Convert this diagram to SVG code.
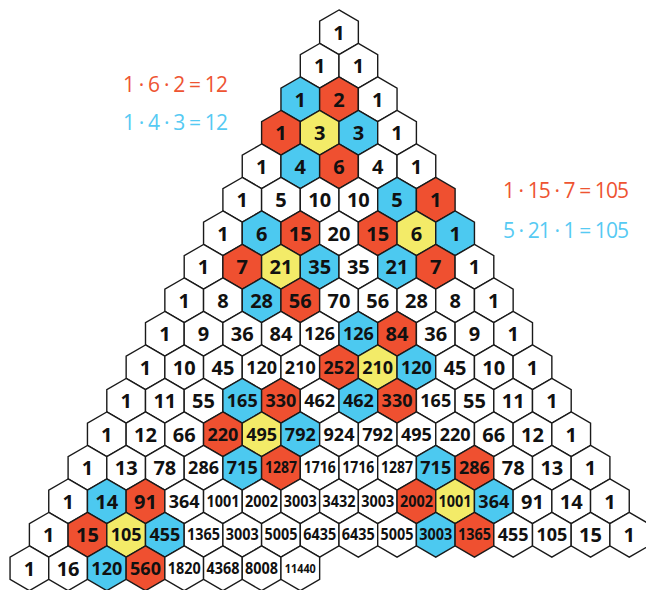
<svg xmlns="http://www.w3.org/2000/svg" xmlns:xlink="http://www.w3.org/1999/xlink" width="646" height="590" viewBox="0 0 646 590">
<style>
.hx{stroke:#1a1a1a;stroke-width:1.4;stroke-linejoin:miter}
.w{fill:#ffffff}.r{fill:#EF5030}.b{fill:#4CC9F0}.y{fill:#F3EB68}
text{font-family:"Open Sans","Liberation Sans",sans-serif;font-weight:700;fill:#111;text-anchor:middle}
.t2{font-size:20px}.t3{font-size:18px}.t4{font-size:15.5px}.t5{font-size:12px}
.eq{font-weight:400;font-size:21px;text-anchor:start}
.er{fill:#EE5432}.eb{fill:#56CAF3}
</style>
<defs>
<polygon id="hx" points="0,-22.34 19.35,-11.17 19.35,11.17 0,22.34 -19.35,11.17 -19.35,-11.17"/>
</defs>
<g id="equations">
<text class="eq er" x="123" y="92" textLength="105" lengthAdjust="spacing">1 · 6 · 2 = 12</text>
<text class="eq eb" x="123" y="130" textLength="105" lengthAdjust="spacing">1 · 4 · 3 = 12</text>
<text class="eq er" x="503" y="198" textLength="126" lengthAdjust="spacing">1 · 15 · 7 = 105</text>
<text class="eq eb" x="503" y="238" textLength="126" lengthAdjust="spacing">5 · 21 · 1 = 105</text>
</g>
<g id="triangle">
<g id="row0" transform="translate(339,32.3)">
<g id="c0-0"><use href="#hx" class="hx w"/><text class="t2" y="7.2">1</text></g>
</g>
<g id="row1" transform="translate(319.65,65.8)">
<g id="c1-0"><use href="#hx" class="hx w"/><text class="t2" y="7.2">1</text></g>
<g id="c1-1" transform="translate(38.7,0)"><use href="#hx" class="hx w"/><text class="t2" y="7.2">1</text></g>
</g>
<g id="row2" transform="translate(300.3,99.3)">
<g id="c2-0"><use href="#hx" class="hx b"/><text class="t2" y="7.2">1</text></g>
<g id="c2-1" transform="translate(38.7,0)"><use href="#hx" class="hx r"/><text class="t2" y="7.2">2</text></g>
<g id="c2-2" transform="translate(77.4,0)"><use href="#hx" class="hx w"/><text class="t2" y="7.2">1</text></g>
</g>
<g id="row3" transform="translate(280.95,132.8)">
<g id="c3-0"><use href="#hx" class="hx r"/><text class="t2" y="7.2">1</text></g>
<g id="c3-1" transform="translate(38.7,0)"><use href="#hx" class="hx y"/><text class="t2" y="7.2">3</text></g>
<g id="c3-2" transform="translate(77.4,0)"><use href="#hx" class="hx b"/><text class="t2" y="7.2">3</text></g>
<g id="c3-3" transform="translate(116.1,0)"><use href="#hx" class="hx w"/><text class="t2" y="7.2">1</text></g>
</g>
<g id="row4" transform="translate(261.6,166.3)">
<g id="c4-0"><use href="#hx" class="hx w"/><text class="t2" y="7.2">1</text></g>
<g id="c4-1" transform="translate(38.7,0)"><use href="#hx" class="hx b"/><text class="t2" y="7.2">4</text></g>
<g id="c4-2" transform="translate(77.4,0)"><use href="#hx" class="hx r"/><text class="t2" y="7.2">6</text></g>
<g id="c4-3" transform="translate(116.1,0)"><use href="#hx" class="hx w"/><text class="t2" y="7.2">4</text></g>
<g id="c4-4" transform="translate(154.8,0)"><use href="#hx" class="hx w"/><text class="t2" y="7.2">1</text></g>
</g>
<g id="row5" transform="translate(242.25,199.8)">
<g id="c5-0"><use href="#hx" class="hx w"/><text class="t2" y="7.2">1</text></g>
<g id="c5-1" transform="translate(38.7,0)"><use href="#hx" class="hx w"/><text class="t2" y="7.2">5</text></g>
<g id="c5-2" transform="translate(77.4,0)"><use href="#hx" class="hx w"/><text class="t2" y="7.2">10</text></g>
<g id="c5-3" transform="translate(116.1,0)"><use href="#hx" class="hx w"/><text class="t2" y="7.2">10</text></g>
<g id="c5-4" transform="translate(154.8,0)"><use href="#hx" class="hx b"/><text class="t2" y="7.2">5</text></g>
<g id="c5-5" transform="translate(193.5,0)"><use href="#hx" class="hx r"/><text class="t2" y="7.2">1</text></g>
</g>
<g id="row6" transform="translate(222.9,233.3)">
<g id="c6-0"><use href="#hx" class="hx w"/><text class="t2" y="7.2">1</text></g>
<g id="c6-1" transform="translate(38.7,0)"><use href="#hx" class="hx b"/><text class="t2" y="7.2">6</text></g>
<g id="c6-2" transform="translate(77.4,0)"><use href="#hx" class="hx r"/><text class="t2" y="7.2">15</text></g>
<g id="c6-3" transform="translate(116.1,0)"><use href="#hx" class="hx w"/><text class="t2" y="7.2">20</text></g>
<g id="c6-4" transform="translate(154.8,0)"><use href="#hx" class="hx r"/><text class="t2" y="7.2">15</text></g>
<g id="c6-5" transform="translate(193.5,0)"><use href="#hx" class="hx y"/><text class="t2" y="7.2">6</text></g>
<g id="c6-6" transform="translate(232.2,0)"><use href="#hx" class="hx b"/><text class="t2" y="7.2">1</text></g>
</g>
<g id="row7" transform="translate(203.55,266.8)">
<g id="c7-0"><use href="#hx" class="hx w"/><text class="t2" y="7.2">1</text></g>
<g id="c7-1" transform="translate(38.7,0)"><use href="#hx" class="hx r"/><text class="t2" y="7.2">7</text></g>
<g id="c7-2" transform="translate(77.4,0)"><use href="#hx" class="hx y"/><text class="t2" y="7.2">21</text></g>
<g id="c7-3" transform="translate(116.1,0)"><use href="#hx" class="hx b"/><text class="t2" y="7.2">35</text></g>
<g id="c7-4" transform="translate(154.8,0)"><use href="#hx" class="hx w"/><text class="t2" y="7.2">35</text></g>
<g id="c7-5" transform="translate(193.5,0)"><use href="#hx" class="hx b"/><text class="t2" y="7.2">21</text></g>
<g id="c7-6" transform="translate(232.2,0)"><use href="#hx" class="hx r"/><text class="t2" y="7.2">7</text></g>
<g id="c7-7" transform="translate(270.9,0)"><use href="#hx" class="hx w"/><text class="t2" y="7.2">1</text></g>
</g>
<g id="row8" transform="translate(184.2,300.3)">
<g id="c8-0"><use href="#hx" class="hx w"/><text class="t2" y="7.2">1</text></g>
<g id="c8-1" transform="translate(38.7,0)"><use href="#hx" class="hx w"/><text class="t2" y="7.2">8</text></g>
<g id="c8-2" transform="translate(77.4,0)"><use href="#hx" class="hx b"/><text class="t2" y="7.2">28</text></g>
<g id="c8-3" transform="translate(116.1,0)"><use href="#hx" class="hx r"/><text class="t2" y="7.2">56</text></g>
<g id="c8-4" transform="translate(154.8,0)"><use href="#hx" class="hx w"/><text class="t2" y="7.2">70</text></g>
<g id="c8-5" transform="translate(193.5,0)"><use href="#hx" class="hx w"/><text class="t2" y="7.2">56</text></g>
<g id="c8-6" transform="translate(232.2,0)"><use href="#hx" class="hx w"/><text class="t2" y="7.2">28</text></g>
<g id="c8-7" transform="translate(270.9,0)"><use href="#hx" class="hx w"/><text class="t2" y="7.2">8</text></g>
<g id="c8-8" transform="translate(309.6,0)"><use href="#hx" class="hx w"/><text class="t2" y="7.2">1</text></g>
</g>
<g id="row9" transform="translate(164.85,333.8)">
<g id="c9-0"><use href="#hx" class="hx w"/><text class="t2" y="7.2">1</text></g>
<g id="c9-1" transform="translate(38.7,0)"><use href="#hx" class="hx w"/><text class="t2" y="7.2">9</text></g>
<g id="c9-2" transform="translate(77.4,0)"><use href="#hx" class="hx w"/><text class="t2" y="7.2">36</text></g>
<g id="c9-3" transform="translate(116.1,0)"><use href="#hx" class="hx w"/><text class="t2" y="7.2">84</text></g>
<g id="c9-4" transform="translate(154.8,0)"><use href="#hx" class="hx w"/><text class="t3" y="6.4">126</text></g>
<g id="c9-5" transform="translate(193.5,0)"><use href="#hx" class="hx b"/><text class="t3" y="6.4">126</text></g>
<g id="c9-6" transform="translate(232.2,0)"><use href="#hx" class="hx r"/><text class="t2" y="7.2">84</text></g>
<g id="c9-7" transform="translate(270.9,0)"><use href="#hx" class="hx w"/><text class="t2" y="7.2">36</text></g>
<g id="c9-8" transform="translate(309.6,0)"><use href="#hx" class="hx w"/><text class="t2" y="7.2">9</text></g>
<g id="c9-9" transform="translate(348.3,0)"><use href="#hx" class="hx w"/><text class="t2" y="7.2">1</text></g>
</g>
<g id="row10" transform="translate(145.5,367.3)">
<g id="c10-0"><use href="#hx" class="hx w"/><text class="t2" y="7.2">1</text></g>
<g id="c10-1" transform="translate(38.7,0)"><use href="#hx" class="hx w"/><text class="t2" y="7.2">10</text></g>
<g id="c10-2" transform="translate(77.4,0)"><use href="#hx" class="hx w"/><text class="t2" y="7.2">45</text></g>
<g id="c10-3" transform="translate(116.1,0)"><use href="#hx" class="hx w"/><text class="t3" y="6.4">120</text></g>
<g id="c10-4" transform="translate(154.8,0)"><use href="#hx" class="hx w"/><text class="t3" y="6.4">210</text></g>
<g id="c10-5" transform="translate(193.5,0)"><use href="#hx" class="hx r"/><text class="t3" y="6.4">252</text></g>
<g id="c10-6" transform="translate(232.2,0)"><use href="#hx" class="hx y"/><text class="t3" y="6.4">210</text></g>
<g id="c10-7" transform="translate(270.9,0)"><use href="#hx" class="hx b"/><text class="t3" y="6.4">120</text></g>
<g id="c10-8" transform="translate(309.6,0)"><use href="#hx" class="hx w"/><text class="t2" y="7.2">45</text></g>
<g id="c10-9" transform="translate(348.3,0)"><use href="#hx" class="hx w"/><text class="t2" y="7.2">10</text></g>
<g id="c10-10" transform="translate(387,0)"><use href="#hx" class="hx w"/><text class="t2" y="7.2">1</text></g>
</g>
<g id="row11" transform="translate(126.15,400.8)">
<g id="c11-0"><use href="#hx" class="hx w"/><text class="t2" y="7.2">1</text></g>
<g id="c11-1" transform="translate(38.7,0)"><use href="#hx" class="hx w"/><text class="t2" y="7.2">11</text></g>
<g id="c11-2" transform="translate(77.4,0)"><use href="#hx" class="hx w"/><text class="t2" y="7.2">55</text></g>
<g id="c11-3" transform="translate(116.1,0)"><use href="#hx" class="hx b"/><text class="t3" y="6.4">165</text></g>
<g id="c11-4" transform="translate(154.8,0)"><use href="#hx" class="hx r"/><text class="t3" y="6.4">330</text></g>
<g id="c11-5" transform="translate(193.5,0)"><use href="#hx" class="hx w"/><text class="t3" y="6.4">462</text></g>
<g id="c11-6" transform="translate(232.2,0)"><use href="#hx" class="hx b"/><text class="t3" y="6.4">462</text></g>
<g id="c11-7" transform="translate(270.9,0)"><use href="#hx" class="hx r"/><text class="t3" y="6.4">330</text></g>
<g id="c11-8" transform="translate(309.6,0)"><use href="#hx" class="hx w"/><text class="t3" y="6.4">165</text></g>
<g id="c11-9" transform="translate(348.3,0)"><use href="#hx" class="hx w"/><text class="t2" y="7.2">55</text></g>
<g id="c11-10" transform="translate(387,0)"><use href="#hx" class="hx w"/><text class="t2" y="7.2">11</text></g>
<g id="c11-11" transform="translate(425.7,0)"><use href="#hx" class="hx w"/><text class="t2" y="7.2">1</text></g>
</g>
<g id="row12" transform="translate(106.8,434.3)">
<g id="c12-0"><use href="#hx" class="hx w"/><text class="t2" y="7.2">1</text></g>
<g id="c12-1" transform="translate(38.7,0)"><use href="#hx" class="hx w"/><text class="t2" y="7.2">12</text></g>
<g id="c12-2" transform="translate(77.4,0)"><use href="#hx" class="hx w"/><text class="t2" y="7.2">66</text></g>
<g id="c12-3" transform="translate(116.1,0)"><use href="#hx" class="hx r"/><text class="t3" y="6.4">220</text></g>
<g id="c12-4" transform="translate(154.8,0)"><use href="#hx" class="hx y"/><text class="t3" y="6.4">495</text></g>
<g id="c12-5" transform="translate(193.5,0)"><use href="#hx" class="hx b"/><text class="t3" y="6.4">792</text></g>
<g id="c12-6" transform="translate(232.2,0)"><use href="#hx" class="hx w"/><text class="t3" y="6.4">924</text></g>
<g id="c12-7" transform="translate(270.9,0)"><use href="#hx" class="hx w"/><text class="t3" y="6.4">792</text></g>
<g id="c12-8" transform="translate(309.6,0)"><use href="#hx" class="hx w"/><text class="t3" y="6.4">495</text></g>
<g id="c12-9" transform="translate(348.3,0)"><use href="#hx" class="hx w"/><text class="t3" y="6.4">220</text></g>
<g id="c12-10" transform="translate(387,0)"><use href="#hx" class="hx w"/><text class="t2" y="7.2">66</text></g>
<g id="c12-11" transform="translate(425.7,0)"><use href="#hx" class="hx w"/><text class="t2" y="7.2">12</text></g>
<g id="c12-12" transform="translate(464.4,0)"><use href="#hx" class="hx w"/><text class="t2" y="7.2">1</text></g>
</g>
<g id="row13" transform="translate(87.45,467.8)">
<g id="c13-0"><use href="#hx" class="hx w"/><text class="t2" y="7.2">1</text></g>
<g id="c13-1" transform="translate(38.7,0)"><use href="#hx" class="hx w"/><text class="t2" y="7.2">13</text></g>
<g id="c13-2" transform="translate(77.4,0)"><use href="#hx" class="hx w"/><text class="t2" y="7.2">78</text></g>
<g id="c13-3" transform="translate(116.1,0)"><use href="#hx" class="hx w"/><text class="t3" y="6.4">286</text></g>
<g id="c13-4" transform="translate(154.8,0)"><use href="#hx" class="hx b"/><text class="t3" y="6.4">715</text></g>
<g id="c13-5" transform="translate(193.5,0)"><use href="#hx" class="hx r"/><text class="t4" y="5.5" textLength="32" lengthAdjust="spacingAndGlyphs">1287</text></g>
<g id="c13-6" transform="translate(232.2,0)"><use href="#hx" class="hx w"/><text class="t4" y="5.5" textLength="32" lengthAdjust="spacingAndGlyphs">1716</text></g>
<g id="c13-7" transform="translate(270.9,0)"><use href="#hx" class="hx w"/><text class="t4" y="5.5" textLength="32" lengthAdjust="spacingAndGlyphs">1716</text></g>
<g id="c13-8" transform="translate(309.6,0)"><use href="#hx" class="hx w"/><text class="t4" y="5.5" textLength="32" lengthAdjust="spacingAndGlyphs">1287</text></g>
<g id="c13-9" transform="translate(348.3,0)"><use href="#hx" class="hx b"/><text class="t3" y="6.4">715</text></g>
<g id="c13-10" transform="translate(387,0)"><use href="#hx" class="hx r"/><text class="t3" y="6.4">286</text></g>
<g id="c13-11" transform="translate(425.7,0)"><use href="#hx" class="hx w"/><text class="t2" y="7.2">78</text></g>
<g id="c13-12" transform="translate(464.4,0)"><use href="#hx" class="hx w"/><text class="t2" y="7.2">13</text></g>
<g id="c13-13" transform="translate(503.1,0)"><use href="#hx" class="hx w"/><text class="t2" y="7.2">1</text></g>
</g>
<g id="row14" transform="translate(68.1,501.3)">
<g id="c14-0"><use href="#hx" class="hx w"/><text class="t2" y="7.2">1</text></g>
<g id="c14-1" transform="translate(38.7,0)"><use href="#hx" class="hx b"/><text class="t2" y="7.2">14</text></g>
<g id="c14-2" transform="translate(77.4,0)"><use href="#hx" class="hx r"/><text class="t2" y="7.2">91</text></g>
<g id="c14-3" transform="translate(116.1,0)"><use href="#hx" class="hx w"/><text class="t3" y="6.4">364</text></g>
<g id="c14-4" transform="translate(154.8,0)"><use href="#hx" class="hx w"/><text class="t4" y="5.5" textLength="33" lengthAdjust="spacingAndGlyphs">1001</text></g>
<g id="c14-5" transform="translate(193.5,0)"><use href="#hx" class="hx w"/><text class="t4" y="5.5" textLength="33" lengthAdjust="spacingAndGlyphs">2002</text></g>
<g id="c14-6" transform="translate(232.2,0)"><use href="#hx" class="hx w"/><text class="t4" y="5.5" textLength="33" lengthAdjust="spacingAndGlyphs">3003</text></g>
<g id="c14-7" transform="translate(270.9,0)"><use href="#hx" class="hx w"/><text class="t4" y="5.5" textLength="33" lengthAdjust="spacingAndGlyphs">3432</text></g>
<g id="c14-8" transform="translate(309.6,0)"><use href="#hx" class="hx w"/><text class="t4" y="5.5" textLength="33" lengthAdjust="spacingAndGlyphs">3003</text></g>
<g id="c14-9" transform="translate(348.3,0)"><use href="#hx" class="hx r"/><text class="t4" y="5.5" textLength="33" lengthAdjust="spacingAndGlyphs">2002</text></g>
<g id="c14-10" transform="translate(387,0)"><use href="#hx" class="hx y"/><text class="t4" y="5.5" textLength="33" lengthAdjust="spacingAndGlyphs">1001</text></g>
<g id="c14-11" transform="translate(425.7,0)"><use href="#hx" class="hx b"/><text class="t3" y="6.4">364</text></g>
<g id="c14-12" transform="translate(464.4,0)"><use href="#hx" class="hx w"/><text class="t2" y="7.2">91</text></g>
<g id="c14-13" transform="translate(503.1,0)"><use href="#hx" class="hx w"/><text class="t2" y="7.2">14</text></g>
<g id="c14-14" transform="translate(541.8,0)"><use href="#hx" class="hx w"/><text class="t2" y="7.2">1</text></g>
</g>
<g id="row15" transform="translate(48.75,534.8)">
<g id="c15-0"><use href="#hx" class="hx w"/><text class="t2" y="7.2">1</text></g>
<g id="c15-1" transform="translate(38.7,0)"><use href="#hx" class="hx r"/><text class="t2" y="7.2">15</text></g>
<g id="c15-2" transform="translate(77.4,0)"><use href="#hx" class="hx y"/><text class="t3" y="6.4">105</text></g>
<g id="c15-3" transform="translate(116.1,0)"><use href="#hx" class="hx b"/><text class="t3" y="6.4">455</text></g>
<g id="c15-4" transform="translate(154.8,0)"><use href="#hx" class="hx w"/><text class="t4" y="5.5" textLength="33" lengthAdjust="spacingAndGlyphs">1365</text></g>
<g id="c15-5" transform="translate(193.5,0)"><use href="#hx" class="hx w"/><text class="t4" y="5.5" textLength="33" lengthAdjust="spacingAndGlyphs">3003</text></g>
<g id="c15-6" transform="translate(232.2,0)"><use href="#hx" class="hx w"/><text class="t4" y="5.5" textLength="33" lengthAdjust="spacingAndGlyphs">5005</text></g>
<g id="c15-7" transform="translate(270.9,0)"><use href="#hx" class="hx w"/><text class="t4" y="5.5" textLength="33" lengthAdjust="spacingAndGlyphs">6435</text></g>
<g id="c15-8" transform="translate(309.6,0)"><use href="#hx" class="hx w"/><text class="t4" y="5.5" textLength="33" lengthAdjust="spacingAndGlyphs">6435</text></g>
<g id="c15-9" transform="translate(348.3,0)"><use href="#hx" class="hx w"/><text class="t4" y="5.5" textLength="33" lengthAdjust="spacingAndGlyphs">5005</text></g>
<g id="c15-10" transform="translate(387,0)"><use href="#hx" class="hx b"/><text class="t4" y="5.5" textLength="33" lengthAdjust="spacingAndGlyphs">3003</text></g>
<g id="c15-11" transform="translate(425.7,0)"><use href="#hx" class="hx r"/><text class="t4" y="5.5" textLength="33" lengthAdjust="spacingAndGlyphs">1365</text></g>
<g id="c15-12" transform="translate(464.4,0)"><use href="#hx" class="hx w"/><text class="t3" y="6.4">455</text></g>
<g id="c15-13" transform="translate(503.1,0)"><use href="#hx" class="hx w"/><text class="t3" y="6.4">105</text></g>
<g id="c15-14" transform="translate(541.8,0)"><use href="#hx" class="hx w"/><text class="t2" y="7.2">15</text></g>
<g id="c15-15" transform="translate(580.5,0)"><use href="#hx" class="hx w"/><text class="t2" y="7.2">1</text></g>
</g>
<g id="row16" transform="translate(29.4,568.3)">
<g id="c16-0"><use href="#hx" class="hx w"/><text class="t2" y="7.2">1</text></g>
<g id="c16-1" transform="translate(38.7,0)"><use href="#hx" class="hx w"/><text class="t2" y="7.2">16</text></g>
<g id="c16-2" transform="translate(77.4,0)"><use href="#hx" class="hx b"/><text class="t3" y="6.4">120</text></g>
<g id="c16-3" transform="translate(116.1,0)"><use href="#hx" class="hx r"/><text class="t3" y="6.4">560</text></g>
<g id="c16-4" transform="translate(154.8,0)"><use href="#hx" class="hx w"/><text class="t4" y="5.5" textLength="33" lengthAdjust="spacingAndGlyphs">1820</text></g>
<g id="c16-5" transform="translate(193.5,0)"><use href="#hx" class="hx w"/><text class="t4" y="5.5" textLength="33" lengthAdjust="spacingAndGlyphs">4368</text></g>
<g id="c16-6" transform="translate(232.2,0)"><use href="#hx" class="hx w"/><text class="t4" y="5.5" textLength="33" lengthAdjust="spacingAndGlyphs">8008</text></g>
<g id="c16-7" transform="translate(270.9,0)"><use href="#hx" class="hx w"/><text class="t5" y="4.3" textLength="31" lengthAdjust="spacingAndGlyphs">11440</text></g>
</g>
</g>
</svg>
